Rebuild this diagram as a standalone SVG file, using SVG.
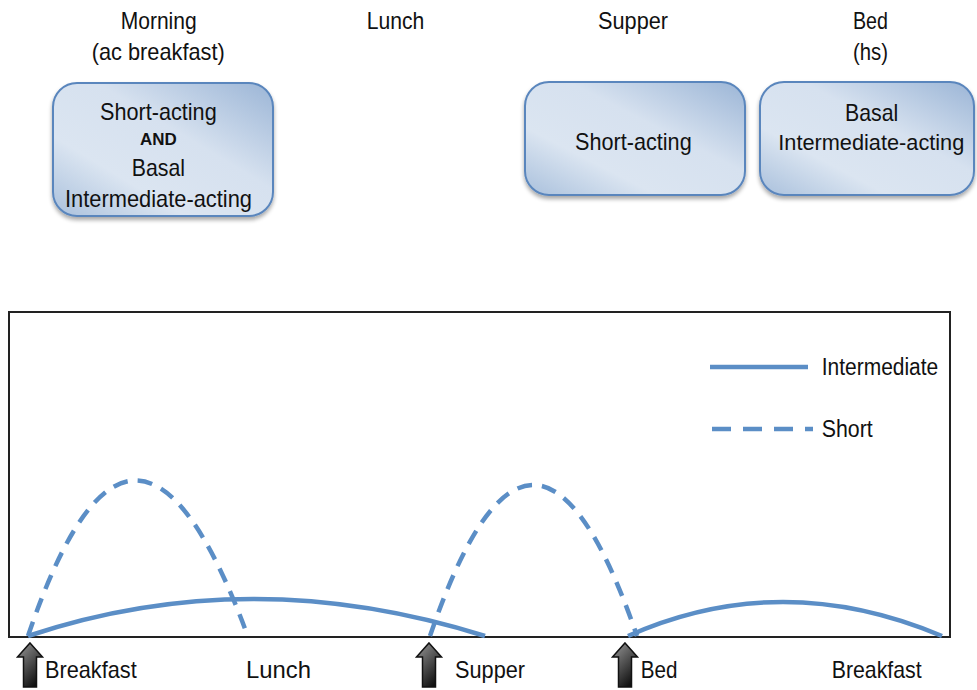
<svg xmlns="http://www.w3.org/2000/svg" width="977" height="690" viewBox="0 0 977 690">
<defs>
<linearGradient id="boxg" x1="0" y1="1" x2="1" y2="0">
<stop offset="0" stop-color="#a9c0dc"/>
<stop offset="0.3" stop-color="#dbe5f1"/>
<stop offset="0.6" stop-color="#d6e1ef"/>
<stop offset="1" stop-color="#9bb5d6"/>
</linearGradient>
<linearGradient id="arrg" x1="0" y1="0" x2="0.6" y2="1">
<stop offset="0" stop-color="#9a9a9a"/>
<stop offset="0.5" stop-color="#555"/>
<stop offset="1" stop-color="#111"/>
</linearGradient>
<filter id="sh" x="-10%" y="-10%" width="120%" height="130%">
<feGaussianBlur in="SourceAlpha" stdDeviation="2"/>
<feOffset dx="0" dy="3" result="b"/>
<feComponentTransfer><feFuncA type="linear" slope="0.35"/></feComponentTransfer>
<feMerge><feMergeNode/><feMergeNode in="SourceGraphic"/></feMerge>
</filter>
<path id="uparrow" d="M0,0 L12.5,14 L6.5,14 L6.5,44 L-6.5,44 L-6.5,14 L-12.5,14 Z"/>
</defs>
<style>
text{font-family:"Liberation Sans",Arial,sans-serif;fill:#111;font-size:24px;}
.lg{font-size:23px;}
.bx{fill:url(#boxg);stroke:#5a86bd;stroke-width:2;}
.curve{fill:none;stroke:#5b8ec6;stroke-width:4.5;}
.dash{stroke-dasharray:15 10;}
.ldash{stroke-dasharray:19 12;}
.arr{fill:url(#arrg);stroke:#111;stroke-width:1.5;stroke-linejoin:miter;}
</style>
<rect width="977" height="690" fill="#fff"/>
<g id="top-labels">
<text x="120.7" y="29" textLength="76" lengthAdjust="spacingAndGlyphs">Morning</text>
<text x="91.7" y="60" textLength="133" lengthAdjust="spacingAndGlyphs">(ac breakfast)</text>
<text x="366.7" y="29" textLength="57.6" lengthAdjust="spacingAndGlyphs">Lunch</text>
<text x="598" y="29" textLength="70" lengthAdjust="spacingAndGlyphs">Supper</text>
<text x="853" y="29" textLength="35" lengthAdjust="spacingAndGlyphs">Bed</text>
<text x="853" y="60" textLength="35" lengthAdjust="spacingAndGlyphs">(hs)</text>
</g>
<g id="box-morning">
<rect class="bx" x="53" y="83" width="220" height="133" rx="24" filter="url(#sh)"/>
<text x="100" y="120" textLength="116.7" lengthAdjust="spacingAndGlyphs">Short-acting</text>
<text x="140" y="145" textLength="36.7" lengthAdjust="spacingAndGlyphs" style="font-size:16px;font-weight:bold">AND</text>
<text x="131.7" y="176" textLength="53.3" lengthAdjust="spacingAndGlyphs">Basal</text>
<text x="65" y="207" textLength="187" lengthAdjust="spacingAndGlyphs">Intermediate-acting</text>
</g>
<g id="box-supper">
<rect class="bx" x="525" y="82" width="220" height="113" rx="24" filter="url(#sh)"/>
<text x="575" y="150" textLength="116.7" lengthAdjust="spacingAndGlyphs">Short-acting</text>
</g>
<g id="box-bed">
<rect class="bx" x="760" y="82" width="214" height="113" rx="24" filter="url(#sh)"/>
<text x="845" y="120.5" textLength="53.3" lengthAdjust="spacingAndGlyphs">Basal</text>
<text x="778.3" y="150" textLength="186" lengthAdjust="spacingAndGlyphs" style="font-size:22.5px">Intermediate-acting</text>
</g>
<g id="chart">
<rect x="9" y="312" width="941" height="325" fill="none" stroke="#222" stroke-width="2"/>
</g>
<g id="legend">
<line class="curve" x1="710" y1="367" x2="808" y2="367"/>
<text class="lg" x="821.7" y="375" textLength="116.6" lengthAdjust="spacingAndGlyphs">Intermediate</text>
<line class="curve ldash" x1="712" y1="429" x2="813" y2="429"/>
<text class="lg" x="821.7" y="436.7" textLength="51" lengthAdjust="spacingAndGlyphs">Short</text>
</g>
<g id="connectors">
<path class="curve" d="M28,636 Q250,562 485,636"/>
<path class="curve" d="M628,636 Q781,568 942,636"/>
<path class="curve dash" d="M28,636 Q133,326 247,634"/>
<path class="curve dash" d="M430,636 Q533,334 637,636"/>
</g>
<g id="x-axis">
<use href="#uparrow" class="arr" x="30" y="643"/>
<use href="#uparrow" class="arr" x="429" y="643"/>
<use href="#uparrow" class="arr" x="625" y="643"/>
<text x="45" y="678" textLength="91.7" lengthAdjust="spacingAndGlyphs">Breakfast</text>
<text x="246" y="678" textLength="65" lengthAdjust="spacingAndGlyphs">Lunch</text>
<text x="455" y="678" textLength="70" lengthAdjust="spacingAndGlyphs">Supper</text>
<text x="640.7" y="678" textLength="36.7" lengthAdjust="spacingAndGlyphs">Bed</text>
<text x="831.7" y="678" textLength="90" lengthAdjust="spacingAndGlyphs">Breakfast</text>
</g>
</svg>
